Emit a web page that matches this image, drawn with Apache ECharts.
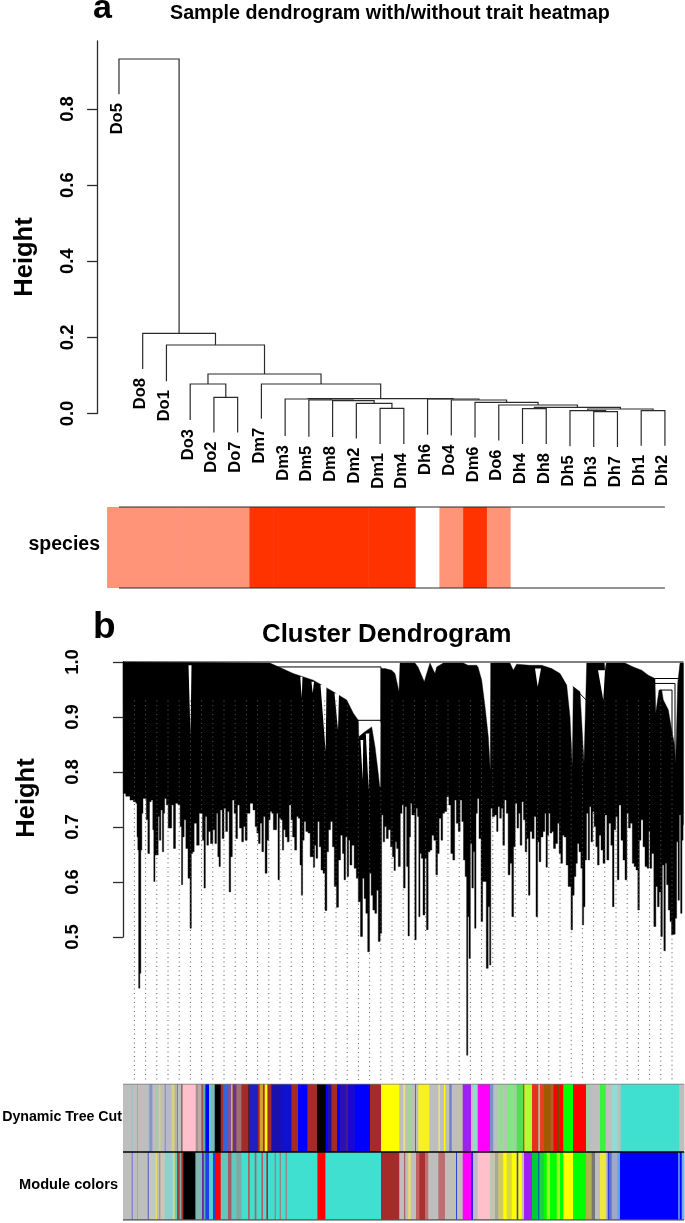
<!DOCTYPE html>
<html><head><meta charset="utf-8">
<style>html,body{margin:0;padding:0;background:#fff}#c{width:685px;height:1223px}</style>
<script src="https://cdn.jsdelivr.net/npm/echarts@6/dist/echarts.min.js"></script>
</head><body><div id="c"></div>
<script>
// ---------- panel a: sample dendrogram ----------
const leafLabels = ['Do5','Do8','Do1','Do3','Do2','Do7','Dm7','Dm3','Dm5','Dm8','Dm2','Dm1','Dm4','Dh6','Do4','Dm6','Do6','Dh4','Dh8','Dh5','Dh3','Dh7','Dh1','Dh2'];
const leafEnds = [.839,.117,.085,-.017,-.050,-.050,-.014,-.059,-.061,-.062,-.066,-.080,-.080,-.056,-.058,-.063,-.071,-.080,-.080,-.086,-.088,-.088,-.085,-.085];
// hclust style: negative = leaf number, positive = earlier merge number
const mergeLeft  = [-12,-11,-10,-9,-8,-23,-21,-20,8,-18,10,-17,-16,-15,-14,5,-7,-5,-4,19,-3,-2,-1];
const mergeRight = [-13,1,2,3,4,-24,-22,7,6,-19,9,11,12,13,14,15,16,-6,18,17,20,21,22];
const mergeHeight = [.0137,.0268,.0336,.0355,.0381,.0074,.0047,.0074,.0118,.0126,.0163,.0223,.0294,.0355,.0381,.0389,.0775,.0426,.0775,.1038,.180,.2107,.9314];
const heightTicksA = [0,.2,.4,.6,.8];
// 0 = white, 1 = salmon, 2 = red
const speciesLevel = [1,1,1,1,1,1,2,2,2,2,2,2,2,0,1,2,1,0,0,0,0,0,0,0];
const speciesPalette = ['#ffffff','#ff9478','#ff3300'];

// ---------- panel b: gene dendrogram, silhouette ----------
const treeUpperEdge = [[0,1],[147,.998],[170.3,.979],[190.3,.967],[210.3,.946],[223.7,.931],[230.3,.907],[235.3,.894],[235.8,.864],[241,.872],[248.7,.882],[252,.846],[255.3,.797],[256.7,.773],[257.6,.773],[258,.988],[262,.988],[268.7,.985],[272,.979],[276,.946],[277,.998],[292,.998],[295,.991],[301.3,.964],[303.7,.979],[306.3,.994],[307,.998],[312,.979],[313.7,.991],[320.3,.998],[340.3,.998],[345,.994],[353.7,.994],[355,.991],[358.7,.967],[362,.919],[365.3,.864],[367.3,.801],[367.7,.998],[387,.998],[390.3,.985],[393.7,.996],[407,.994],[418.7,.994],[428.7,.988],[437,.979],[443.7,.958],[447,.900],[449.3,.810],[450.3,.955],[457,.946],[461,.816],[463.7,.998],[481.3,.998],[482,.983],[483.3,.998],[502,.998],[510.3,.991],[518.7,.985],[525.3,.976],[532,.970],[532.7,.907],[536,.949],[538.7,.949],[540.3,.931],[545.3,.913],[548.7,.876],[551.3,.852],[552.7,.816],[554.7,.961],[557,.998],[560.5,.998]];
const treeLowerA = [[.3,.761],[5.3,.756],[8.7,.749],[12,.746],[13.7,.743],[14.3,.682],[15.3,.658],[16,.407],[16.7,.407],[17,.434],[17.7,.434],[18,.658],[19.7,.725],[20.3,.752],[23,.752],[23.7,.713],[26,.652],[27,.746],[29.3,.749],[30.3,.695],[31.3,.601],[32.7,.649],[34.7,.649],[35.7,.719],[37,.676],[38.7,.731],[40,.655],[41.3,.725],[42,.752],[44.7,.740],[45.7,.698],[47.7,.698],[49.7,.740],[51.3,.661],[53.7,.743],[56.3,.740],[58,.701],[59,.595],[60.3,.682],[62,.713],[63.7,.661],[66.3,.607],[67.7,.516],[69,.652],[70.3,.655],[72,.707],[75.3,.667],[77,.725],[78.7,.725],[80.3,.676],[81.7,.589],[83,.719],[84.7,.667],[86.3,.692],[88.7,.670],[91,.695],[92.7,.670],[94.3,.725],[95.3,.646],[96.7,.628],[98,.731],[100.3,.679],[101.7,.734],[103.7,.692],[105.3,.728],[107,.582],[108.3,.646],[110.3,.749],[112,.725],[113.7,.679],[115.3,.740],[117.7,.698],[119.7,.673],[121.3,.701],[123,.676],[125.3,.725],[128.7,.743],[131.3,.731],[133,.701],[134.7,.689],[136.3,.670],[138,.707],[139.7,.655]];
const treeLowerB = [[141.3,.719],[143,.616],[145,.676],[146.3,.713],[148,.728],[149.7,.725],[151,.695],[153,.695],[154.3,.725],[155.7,.604],[157,.716],[158.7,.713],[160,.658],[161.3,.695],[163.3,.682],[165.3,.673],[167,.740],[169,.713],[170.3,.682],[173,.658],[174.3,.719],[176.3,.716],[177.7,.631],[179,.576],[180.3,.676],[182,.710],[183.7,.692],[186.3,.689],[188,.646],[189.7,.646],[191,.627],[192.3,.667],[193.7,.643],[195.7,.710],[197,.664],[199,.622],[201,.616],[203,.548],[204.7,.655],[206.3,.695],[208.7,.710],[210.3,.664],[212.3,.592],[214.7,.554],[216.3,.640],[218.7,.685],[220.3,.652],[221.7,.604],[223.3,.682],[225,.610],[226.3,.676],[227.7,.631],[230,.667],[232.3,.625],[234.3,.607],[236.3,.564],[238.7,.501],[240.3,.607],[242,.570],[243.7,.543],[245.7,.473],[247.3,.616],[249,.576],[250.7,.549],[253,.543],[254.3,.585],[256.3,.492],[258,.507],[259.3,.722],[261,.673],[262.3,.701],[264.3,.679],[266.3,.695],[268.7,.664],[270.3,.646],[271.7,.621],[273,.673],[274.3,.661],[276.3,.628],[278.3,.725],[279.7,.740],[281.3,.589]];
const treeLowerC = [[283,.737],[284.3,.628],[285.7,.502],[287,.682],[288,.743],[289.7,.722],[291,.722],[292.7,.495],[293.7,.734],[295.3,.719],[296.3,.537],[297.7,.652],[299,.643],[301,.540],[302.7,.643],[304.3,.513],[306,.655],[308,.658],[309.7,.685],[312,.676],[313.7,.613],[315.3,.652],[317,.716],[319,.676],[320.3,.725],[322.7,.728],[324.7,.755],[327,.740],[328.7,.652],[331,.640],[332.3,.749],[334.3,.707],[336.3,.692],[338,.749],[339.7,.710],[341.3,.640],[343,.610],[344.3,.285],[345.3,.537],[346.7,.461],[348,.670],[349.7,.589],[351,.655],[352.3,.516],[353.7,.725],[355,.752],[357,.679],[359,.528],[360.3,.601],[362.3,.601],[364.3,.443],[366,.555],[367.3,.449],[368.3,.734],[370.3,.719],[373,.722],[374.3,.692],[375.7,.737],[377.7,.716],[379,.734],[380.7,.667],[382.3,.749],[384.3,.725],[386,.613],[388,.634],[389.7,.537],[391.3,.664],[393,.743],[395,.698],[396.3,.725],[398,.667],[399.7,.746],[401.3,.713],[403,.655],[404.7,.679],[406.3,.576],[407.7,.692],[410.3,.679],[412,.719],[414,.537],[415.3,.673],[417,.637],[418.7,.682],[421.3,.692]];
const treeLowerD = [[422.3,.725],[423.7,.627],[425,.685],[426.3,.725],[428,.689],[429.7,.692],[431.3,.661],[433.7,.670],[435.3,.707],[437,.652],[438.7,.634],[440.3,.685],[442,.682],[444.3,.631],[446,.592],[447.3,.592],[448.7,.513],[450.3,.576],[452,.610],[453.7,.634],[455,.670],[457,.655],[458.7,.625],[460,.522],[461.3,.555],[462.7,.640],[464.3,.725],[466,.640],[467,.737],[469,.673],[470.3,.728],[472,.701],[473.7,.664],[475.3,.631],[477,.685],[479,.658],[481,.634],[483,.722],[484.7,.640],[487,.707],[488.7,.667],[490.3,.555],[491.7,.695],[493.7,.719],[495,.604],[497,.740],[499,.676],[501,.640],[503,.604],[504.7,.725],[506.3,.698],[508.3,.707],[510.3,.634],[512,.628],[514,.622],[515.7,.549],[517,.676],[519,.713],[521,.664],[523,.628],[525.3,.625],[526.3,.692],[527.7,.625],[529.7,.652],[532,.519],[533.7,.592],[535.3,.555],[537,.582],[538.7,.501],[540,.631],[541.7,.475],[543,.634],[544.3,.595],[546.3,.549],[547.7,.528],[549.3,.504],[551.3,.505],[553,.534],[554.3,.673],[555.7,.567],[557,.722],[558.3,.543],[559.7,.676],[560.5,.704]];
// white wedges inside the black mass: [left rank, right rank, apex rank, top height, apex height]
const treeGaps = [[65.5,68.5,67.5,.994,.867],[177.3,179.5,178.7,.973,.934],[188.5,191,189.7,.964,.943],[197.5,203.5,202.7,.958,.837],[211.5,216,215,.943,.876],[237.5,240.2,239.7,.858,.785],[242.8,246.2,245.7,.870,.767],[412,418,414.7,.988,.955],[475,482,480.3,.985,.931]];
// thin branches visible over the white: each is a list of [rank, height]
const treeBranches = [
  [[0,1],[560.5,1]],
  [[125,.991],[258,.991],[258,.89]],
  [[235,.894],[258,.894]],
  [[532,.970],[557,.970],[557,.80]],
  [[532,.961],[552,.961],[552,.82]],
  [[537,.949],[549,.949],[549,.87]],
  [[450,.955],[463.7,.930]]
];
const dropLines = [11.4,22.6,33.8,45,56.2,67.4,78.6,89.8,101,112.2,123.4,134.6,145.8,157,168.2,179.4,190.6,201.8,213,224.2,235.4,246.6,257.8,269,280.2,291.4,302.6,313.8,325,336.2,347.4,358.6,369.8,381,392.2,403.4,414.6,425.8,437,448.2,459.4,470.6,481.8,493,504.2,515.4,526.6,537.8,549];
const dropLineEnd = .24;
const heightTicksB = [.5,.6,.7,.8,.9,1];

// ---------- colour rows of panel b ----------
const G='#bebebe',T='#40e0d0',B='#0000ff',N='#a52a2a',K='#000000',Y='#ffff00',P='#ffc0cb',M='#ff00ff',R='#ff0000',L='#00ff00',U='#a020f0',V='#adff2f';
const dynamicColors = [G,'#8fc9c4',G,'#c49a9a',G,'#8fc9c4','#8f90d0',G,'#90d890',G,'#d8d080',G,'#8080d8','#b8b8c8','#d8d080','#b0b0b0','#666666',G,'#554444',P,'#a89090','#c0a8a8','#a05050','#50b0a8',B,T,'#80b8b8',K,N,'#3366dd','#8050a0',Y,'#703090','#a07070',N,'#552222','#2020c0',N,'#d0a030',N,Y,N,'#1a10b0','#1010d0',N,B,N,K,B,'#2010a0',N,B,'#2a10b8',N,'#1808d0',B,N,Y,G,'#e8e080',G,'#90e090',G,'#5060e0',G,'#f8f020',G,'#e8e080',G,Y,G,'#7080c8',G,'#c0c0b0',U,G,'#90dcd4',M,'#8090c0',G,'#90e090',G,'#80e880','#a0d0a0','#50e050',R,V,'#e83020','#a0c0b8','#e84020','#a05a00','#b06030',R,'#804000',R,L,R,'#a0d0a0',G,'#40f040',G,'#90dcd4',G,T,G];
const dynamicEnds = [8.4,9.4,14,15,25.4,26.4,29.4,32.7,33.7,36,37.4,41.7,42.7,48.4,51.7,54.4,55,58.4,59.4,72.7,75,78.4,80,82.4,86,87.4,91.7,97.7,100,105,108.4,109.4,113.4,118.4,125,126.7,135,136.7,140,141.7,144.4,148.4,158.4,168.4,175,184.4,194,202.7,205,208.4,214,217,223.7,224.3,232,247,258,276.3,280.3,282.3,285.3,287.7,292,293,295.3,306.3,315.3,317,321,322.3,326.3,328.7,333.7,339.7,348,350.3,354.7,367,370.3,375.3,380.3,383.7,390.3,393.7,400.3,401.3,409,415.3,417,421,427.7,430.3,433.7,436.3,440.3,450,463,467,477,482.7,488.7,494.3,497.7,556.3,561];
const moduleColors = [G,'#7070d8',G,'#90b890',G,'#7070c0','#c0c8c0','#e8e060',G,'#c09090','#c8c8b8','#90d0c8','#a0d0c0','#e0d880','#60d0c0','#a04040','#80b0a8',N,K,'#80b8b4','#7020a0','#50b0a8','#2040f0','#50d0d0','#2040f0',R,'#60c8bc','#a06060','#60c8bc','#80a8a0',T,'#b06060',T,'#b06060',T,'#b06060',T,N,T,'#c06060',T,'#c06060',T,'#c06060',T,R,T,N,G,'#b06060',G,'#e8e060',G,'#c06060','#a83030','#c07070',G,'#b87070',G,'#c0c0b0','#3040e0',G,M,'#3020f0',G,P,'#c0c8b0','#a8a8a0','#d0c860',Y,'#d8d840',Y,'#3040e0',Y,G,U,'#00cc33','#0040d0','#20d040',L,'#a0f020',L,'#a0f020',L,Y,L,'#b0b050','#777777',G,'#f0e840',G,'#3040e0','#6070d0','#a0a8c8','#60a0f0',B,'#70b0f0',B,'#70b0f0'];
const moduleEnds = [8.7,9.7,14,15,24.7,26,32.7,34,36,37.4,41.7,48.4,50,51.7,54,56.7,58.4,60.4,72.4,79,80.7,82.4,86,90,92,97.7,105,108.4,113.4,118.4,125,126.7,131.7,133.4,138.4,140,143.4,145,151.7,152.7,156.7,157.7,162.7,163.7,194.4,202.4,258,276.3,281,282.3,285.3,287.7,293,296.3,302,305.3,315.3,322,327,333,334,339.7,348,350,354.7,367,372,375.3,380.3,383.7,388.7,393.7,395.3,398.7,401,409,415.3,416.3,421,423.7,427,433.7,437,440.3,450,463,468.7,472,477,482.7,484.7,486.3,488.7,494.3,497,555.3,556.7,558.7,561];

// ---------- derived tree geometry (leaf slots and hclust midpoints) ----------
function nodeOf(ref, nodes){ return ref < 0 ? {x:-ref, y:leafEnds[-ref-1]} : nodes[ref-1]; }
const mergeNodes = [];
const mergeData = mergeHeight.map((h,i)=>{
  const a = nodeOf(mergeLeft[i],mergeNodes), b = nodeOf(mergeRight[i],mergeNodes);
  mergeNodes.push({x:(a.x+b.x)/2, y:h});
  return [a.x,a.y,b.x,b.y,h];
});
const FONT = '"Liberation Sans", Arial, sans-serif';
const INK = '#2b2b2b';
// leaves hang straight down, so the lower edge of the mass is stepped
const treeLower = treeLowerA.concat(treeLowerB,treeLowerC,treeLowerD);
const treeLowerSteps = [];
treeLower.forEach((q,i)=>{
  const l = i ? (treeLower[i-1][0]+q[0])/2 : q[0];
  const r = i<treeLower.length-1 ? (treeLower[i+1][0]+q[0])/2 : q[0];
  treeLowerSteps.push([l,q[1]],[r,q[1]]);
});
function upperAt(r){
  for(let i=1;i<treeUpperEdge.length;i++){
    if(treeUpperEdge[i][0]>=r){
      const a=treeUpperEdge[i-1],b=treeUpperEdge[i];
      return a[1]+(b[1]-a[1])*(r-a[0])/Math.max(b[0]-a[0],.001);
    }
  }
  return 1;
}
function rowStripes(ends,row){
  return ends.map((e,i)=>[i?ends[i-1]:0,e,row,i]);
}

const chart = echarts.init(document.getElementById('c'),null,{renderer:'canvas'});
const hiddenX = (min,max,i)=>({type:'value',gridIndex:i,min,max,show:false});
const tickStyle = {color:INK,width:1.3};
const tickLabel = (custom)=>({rotate:90,margin:20,customValues:custom,fontFamily:FONT,fontWeight:'bold',fontSize:18.5,color:'#000',formatter:v=>v.toFixed(1)});
const axisY = (o)=>Object.assign({type:'value',splitLine:{show:false},
  axisLine:{show:true,lineStyle:tickStyle}},o);
// each cell runs slightly under its right neighbour so no hairline seams show
const stripeItem = (colors)=>(p,api)=>{
  const l=api.coord([api.value(0),api.value(2)+1]),r=api.coord([api.value(1),api.value(2)]);
  return {type:'rect',shape:{x:l[0],y:l[1],width:r[0]-l[0]+.6,height:r[1]-l[1]},style:{fill:colors[p.dataIndex]}};
};

chart.setOption({
  animation:false,
  backgroundColor:'#fff',
  title:[
    {text:'Sample dendrogram with/without trait heatmap',left:165,top:-1,textStyle:{fontFamily:FONT,fontWeight:'bold',fontSize:19.7,color:'#000'}},
    {text:'Cluster Dendrogram',left:257,top:617,textStyle:{fontFamily:FONT,fontWeight:'bold',fontSize:25.8,color:'#000'}}
  ],
  graphic:[
    {type:'text',x:93,y:-8.4,style:{text:'a',font:'bold 34px '+FONT,fill:'#000'}},
    {type:'text',x:93,y:609,style:{text:'b',font:'bold 37px '+FONT,fill:'#000'}},
    {type:'text',x:25,y:257,rotation:Math.PI/2,style:{text:'Height',font:'bold 25.5px '+FONT,fill:'#000',textAlign:'center',textVerticalAlign:'middle'}},
    {type:'text',x:27,y:798,rotation:Math.PI/2,style:{text:'Height',font:'bold 25.5px '+FONT,fill:'#000',textAlign:'center',textVerticalAlign:'middle'}},
    {type:'text',x:100,y:545,style:{text:'species',font:'bold 19.5px '+FONT,fill:'#000',textAlign:'right',textVerticalAlign:'middle'}},
    {type:'text',x:122,y:1117,style:{text:'Dynamic Tree Cut',font:'bold 14.2px '+FONT,fill:'#000',textAlign:'right',textVerticalAlign:'middle'}},
    {type:'text',x:118,y:1185,style:{text:'Module colors',font:'bold 14.6px '+FONT,fill:'#000',textAlign:'right',textVerticalAlign:'middle'}}
  ],
  grid:[
    {left:107.1,width:569.7,top:41,height:372.5},
    {left:107.1,width:569.7,top:507,height:81},
    {left:123,width:561,top:662,height:275},
    {left:123,width:561,top:1084,height:136}
  ],
  xAxis:[hiddenX(.5,24.5,0),hiddenX(.5,24.5,1),hiddenX(0,561,2),hiddenX(0,561,3)],
  yAxis:[
    axisY({gridIndex:0,min:0,max:.9787,offset:10,
      axisTick:{show:true,length:10,customValues:heightTicksA,lineStyle:tickStyle},
      axisLabel:tickLabel(heightTicksA)}),
    {type:'value',gridIndex:1,min:0,max:1,show:false},
    axisY({gridIndex:2,min:.5,max:1,interval:.1,offset:22,
      axisTick:{show:true,length:10,customValues:heightTicksB,lineStyle:tickStyle},
      axisLabel:Object.assign(tickLabel(heightTicksB),{margin:19})}),
    {type:'value',gridIndex:3,min:0,max:2,show:false}
  ],
  series:[
    // a: merge brackets
    {type:'custom',xAxisIndex:0,yAxisIndex:0,clip:false,data:mergeData,
      renderItem:(p,api)=>{
        const xa=api.value(0),ya=api.value(1),xb=api.value(2),yb=api.value(3),h=api.value(4);
        return {type:'polyline',shape:{points:[api.coord([xa,ya]),api.coord([xa,h]),api.coord([xb,h]),api.coord([xb,yb])]},
          style:{stroke:INK,fill:null,lineWidth:1.2}};
      }},
    // a: rotated leaf labels
    {type:'custom',xAxisIndex:0,yAxisIndex:0,clip:false,data:leafEnds.map((v,i)=>[i+1,v]),
      renderItem:(p,api)=>{
        const c=api.coord([api.value(0),api.value(1)]);
        return {type:'text',x:c[0]-2,y:c[1]+9,rotation:Math.PI/2,
          style:{text:leafLabels[p.dataIndex],textAlign:'right',textVerticalAlign:'middle',font:'bold 16.5px '+FONT,fill:'#000'}};
      }},
    // a: species strip
    {type:'custom',xAxisIndex:1,yAxisIndex:1,data:speciesLevel.map((v,i)=>[i+1,v]),
      renderItem:(p,api)=>{
        const l=api.coord([api.value(0)-.5,1]),r=api.coord([api.value(0)+.5,0]);
        return {type:'rect',shape:{x:l[0],y:l[1],width:r[0]-l[0]+.6,height:r[1]-l[1]},style:{fill:speciesPalette[api.value(1)]}};
      }},
    {type:'line',xAxisIndex:1,yAxisIndex:1,symbol:'none',silent:true,clip:false,lineStyle:{color:INK,width:1.2},data:[[1,1],[24,1]]},
    {type:'line',xAxisIndex:1,yAxisIndex:1,symbol:'none',silent:true,clip:false,lineStyle:{color:INK,width:1.2},data:[[1,0],[24,0]]},
    // b: black silhouette
    {type:'custom',xAxisIndex:2,yAxisIndex:2,clip:false,data:[[0]],
      renderItem:(p,api)=>{
        const pts=treeUpperEdge.concat(treeLowerSteps.slice().reverse()).map(q=>api.coord(q));
        return {type:'polygon',shape:{points:pts},style:{fill:'#000',stroke:'#000',lineWidth:.4}};
      }},
    {type:'custom',xAxisIndex:2,yAxisIndex:2,clip:false,data:treeGaps,
      renderItem:(p,api)=>{
        const top=api.value(3);
        return {type:'polygon',shape:{points:[api.coord([api.value(0),top]),api.coord([api.value(1),top]),api.coord([api.value(2),api.value(4)])]},style:{fill:'#fff'}};
      }},
    // b: dotted drop lines
    {type:'custom',xAxisIndex:2,yAxisIndex:2,clip:false,data:dropLines.map(v=>[v]),
      renderItem:(p,api)=>{
        const r=api.value(0),top=Math.min(upperAt(r),.93);
        const a=api.coord([r,top]),b=api.coord([r,dropLineEnd]);
        return {type:'line',shape:{x1:a[0],y1:a[1],x2:b[0],y2:b[1]},style:{stroke:'#5a5a5a',lineWidth:1,lineDash:[1,3.5]}};
      }},
    // b: thin branches
    {type:'custom',xAxisIndex:2,yAxisIndex:2,clip:false,data:treeBranches.map((b,i)=>[i]),
      renderItem:(p,api)=>({type:'polyline',shape:{points:treeBranches[p.dataIndex].map(q=>api.coord(q))},style:{stroke:'#000',fill:null,lineWidth:1}})},
    // b: colour rows
    {type:'custom',xAxisIndex:3,yAxisIndex:3,data:rowStripes(dynamicEnds,1),renderItem:stripeItem(dynamicColors)},
    {type:'custom',xAxisIndex:3,yAxisIndex:3,data:rowStripes(moduleEnds,0),renderItem:stripeItem(moduleColors)},
    {type:'line',xAxisIndex:3,yAxisIndex:3,symbol:'none',silent:true,lineStyle:{color:'#000',width:1.5},data:[[0,1],[561,1]]},
    {type:'line',xAxisIndex:3,yAxisIndex:3,symbol:'none',silent:true,lineStyle:{color:'#777',width:1.2},data:[[0,2],[561,2]]},
    {type:'line',xAxisIndex:3,yAxisIndex:3,symbol:'none',silent:true,lineStyle:{color:'#555',width:1.5},data:[[0,0],[561,0]]}
  ]
});
</script></body></html>
